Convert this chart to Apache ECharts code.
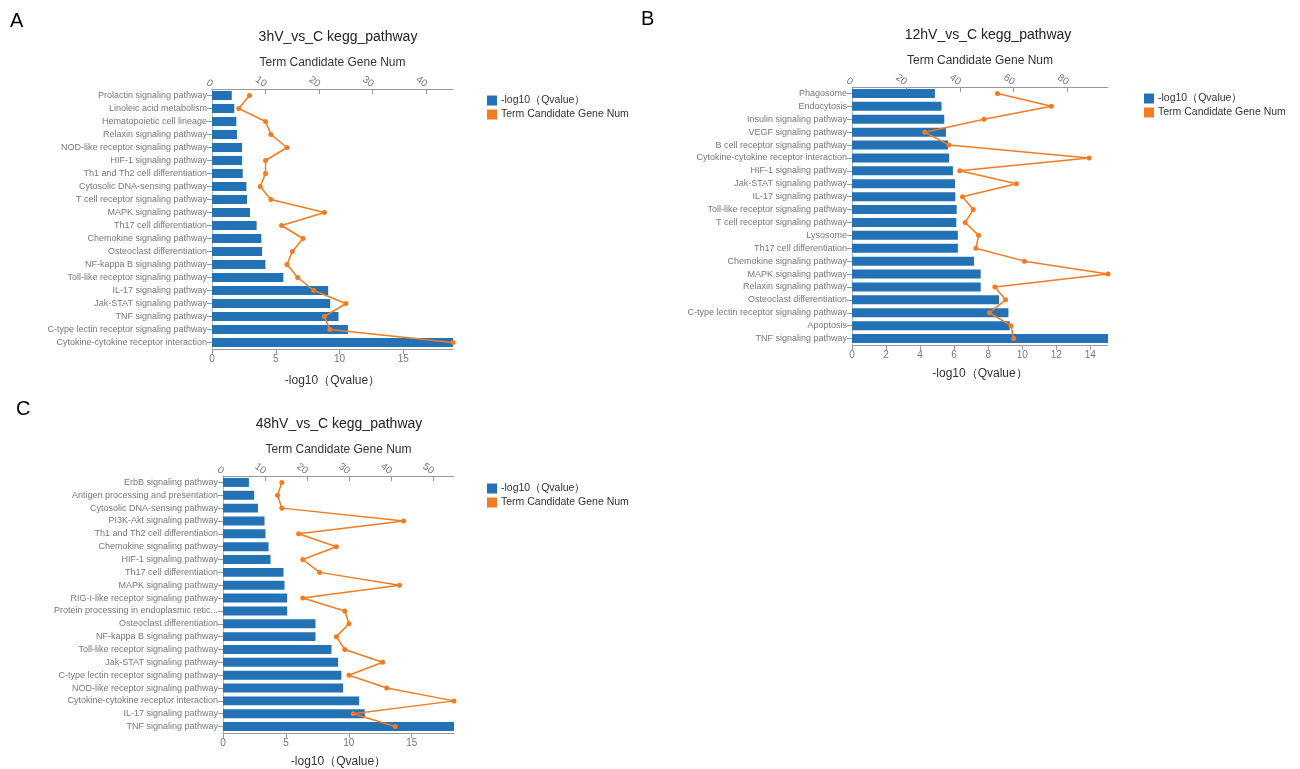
<!DOCTYPE html>
<html>
<head>
<meta charset="utf-8">
<script src="https://cdn.jsdelivr.net/npm/echarts@6/dist/echarts.min.js"></script>
<style>html,body{margin:0;padding:0;background:#fff;}#c{width:1300px;height:769px;}</style>
</head>
<body>
<div id="c"></div>
<script>
// Panel A: 3hV_vs_C
const catsA = ['Prolactin signaling pathway','Linoleic acid metabolism','Hematopoietic cell lineage','Relaxin signaling pathway','NOD-like receptor signaling pathway','HIF-1 signaling pathway','Th1 and Th2 cell differentiation','Cytosolic DNA-sensing pathway','T cell receptor signaling pathway','MAPK signaling pathway','Th17 cell differentiation','Chemokine signaling pathway','Osteoclast differentiation','NF-kappa B signaling pathway','Toll-like receptor signaling pathway','IL-17 signaling pathway','Jak-STAT signaling pathway','TNF signaling pathway','C-type lectin receptor signaling pathway','Cytokine-cytokine receptor interaction'];
const qA = [1.55,1.75,1.91,1.96,2.36,2.36,2.41,2.7,2.75,2.98,3.5,3.87,3.93,4.19,5.6,9.11,9.27,9.92,10.66,18.9];
const genesA = [7,5,10,11,14,10,10,9,11,21,13,17,15,14,16,19,25,21,22,45];

// Panel B: 12hV_vs_C
const catsB = ['Phagosome','Endocytosis','Insulin signaling pathway','VEGF signaling pathway','B cell receptor signaling pathway','Cytokine-cytokine receptor interaction','HIF-1 signaling pathway','Jak-STAT signaling pathway','IL-17 signaling pathway','Toll-like receptor signaling pathway','T cell receptor signaling pathway','Lysosome','Th17 cell differentiation','Chemokine signaling pathway','MAPK signaling pathway','Relaxin signaling pathway','Osteoclast differentiation','C-type lectin receptor signaling pathway','Apoptosis','TNF signaling pathway'];
const qB = [4.87,5.26,5.42,5.52,5.64,5.71,5.93,6.05,6.07,6.15,6.13,6.22,6.22,7.17,7.56,7.56,8.64,9.19,9.27,15.04];
const genesB = [54,74,49,27,36,88,40,61,41,45,42,47,46,64,95,53,57,51,59,60];

// Panel C: 48hV_vs_C
const catsC = ['ErbB signaling pathway','Antigen processing and presentation','Cytosolic DNA-sensing pathway','PI3K-Akt signaling pathway','Th1 and Th2 cell differentiation','Chemokine signaling pathway','HIF-1 signaling pathway','Th17 cell differentiation','MAPK signaling pathway','RIG-I-like receptor signaling pathway','Protein processing in endoplasmic reticulum','Osteoclast differentiation','NF-kappa B signaling pathway','Toll-like receptor signaling pathway','Jak-STAT signaling pathway','C-type lectin receptor signaling pathway','NOD-like receptor signaling pathway','Cytokine-cytokine receptor interaction','IL-17 signaling pathway','TNF signaling pathway'];
const qC = [2.06,2.48,2.78,3.3,3.38,3.62,3.78,4.81,4.89,5.1,5.1,7.35,7.35,8.62,9.15,9.41,9.55,10.82,11.27,18.36];
const genesC = [14,13,14,43,18,27,19,23,42,19,29,30,27,29,38,30,39,55,31,41];

const titles = ['3hV_vs_C kegg_pathway','12hV_vs_C kegg_pathway','48hV_vs_C kegg_pathway'];
const qName = '-log10（Qvalue）';
const gName = 'Term Candidate Gene Num';

const BLUE = '#2372b6', ORANGE = '#f47b20';
const FONT = 'Liberation Sans, Arial, sans-serif';

const panels = [
  {cats: catsA, q: qA, g: genesA, grid: {left: 212, top: 89, width: 241, height: 260}, qInt: 5, gInt: 10,
   title: {x: 333, y: 25}, legend: {x: 482, y: 90}, qGap: 26},
  {cats: catsB, q: qB, g: genesB, grid: {left: 852, top: 87, width: 256, height: 258}, qInt: 2, gInt: 20,
   title: {x: 983, y: 23}, legend: {x: 1139, y: 88}, qGap: 23},
  {cats: catsC, q: qC, g: genesC, grid: {left: 223, top: 476, width: 231, height: 258}, qInt: 5, gInt: 10,
   title: {x: 334, y: 412}, legend: {x: 482, y: 478}, qGap: 23}
];

const grid = [], xAxis = [], yAxis = [], series = [], title = [], legend = [];
panels.forEach((p, i) => {
  grid.push(Object.assign({containLabel: false}, p.grid));
  title.push({text: titles[i], left: p.title.x, top: p.title.y, textAlign: 'center',
    textStyle: {fontFamily: FONT, fontSize: 14, fontWeight: 'normal', color: '#222'}});
  legend.push({left: p.legend.x, top: p.legend.y, orient: 'vertical', itemWidth: 10, itemHeight: 10, itemGap: 3,
    icon: 'rect', data: [qName, gName], textStyle: {fontFamily: FONT, fontSize: 10.5, color: '#333', padding: [0, 0, 0, -1]}});
  // bottom value axis for bars
  xAxis.push({type: 'value', gridIndex: i, position: 'bottom', min: 0, max: 'dataMax', interval: p.qInt,
    name: qName, nameLocation: 'middle', nameGap: p.qGap,
    nameTextStyle: {fontFamily: FONT, fontSize: 12, color: '#333'},
    axisLine: {show: true, lineStyle: {color: '#999'}}, axisTick: {show: true, lineStyle: {color: '#999'}},
    axisLabel: {fontFamily: FONT, fontSize: 10, color: '#777', showMaxLabel: false, margin: 5},
    splitLine: {show: false}});
  // top value axis for the line
  xAxis.push({type: 'value', gridIndex: i, position: 'top', min: 0, max: 'dataMax', interval: p.gInt,
    name: gName, nameLocation: 'middle', nameGap: 20,
    nameTextStyle: {fontFamily: FONT, fontSize: 12, color: '#333'},
    axisLine: {show: true, lineStyle: {color: '#999'}}, axisTick: {show: true, inside: true, lineStyle: {color: '#999'}},
    axisLabel: {fontFamily: FONT, fontSize: 10, color: '#777', rotate: 35, showMaxLabel: false, margin: 4},
    splitLine: {show: false}});
  yAxis.push({type: 'category', gridIndex: i, data: p.cats, inverse: true,
    axisLine: {show: true, lineStyle: {color: '#bbb'}}, axisTick: {show: true, alignWithLabel: true, lineStyle: {color: '#999'}},
    axisLabel: {fontFamily: FONT, fontSize: 9, color: '#777', margin: 5, width: 170, overflow: 'truncate'}});
  series.push({name: qName, type: 'bar', xAxisIndex: i * 2, yAxisIndex: i, data: p.q,
    barCategoryGap: '30%', itemStyle: {color: BLUE}, z: 2});
  series.push({name: gName, type: 'line', xAxisIndex: i * 2 + 1, yAxisIndex: i, data: p.g,
    symbol: 'circle', symbolSize: 5, itemStyle: {color: ORANGE}, lineStyle: {color: ORANGE, width: 1.5}, z: 3});
});

const chart = echarts.init(document.getElementById('c'), null, {renderer: 'canvas'});
chart.setOption({
  animation: false,
  backgroundColor: '#fff',
  title: title,
  legend: legend,
  grid: grid,
  xAxis: xAxis,
  yAxis: yAxis,
  series: series,
  graphic: [
    {type: 'text', left: 10, top: 11, style: {text: 'A', font: '20px ' + FONT, fill: '#000'}},
    {type: 'text', left: 641, top: 9, style: {text: 'B', font: '20px ' + FONT, fill: '#000'}},
    {type: 'text', left: 16, top: 399, style: {text: 'C', font: '20px ' + FONT, fill: '#000'}}
  ]
});
</script>
</body>
</html>
